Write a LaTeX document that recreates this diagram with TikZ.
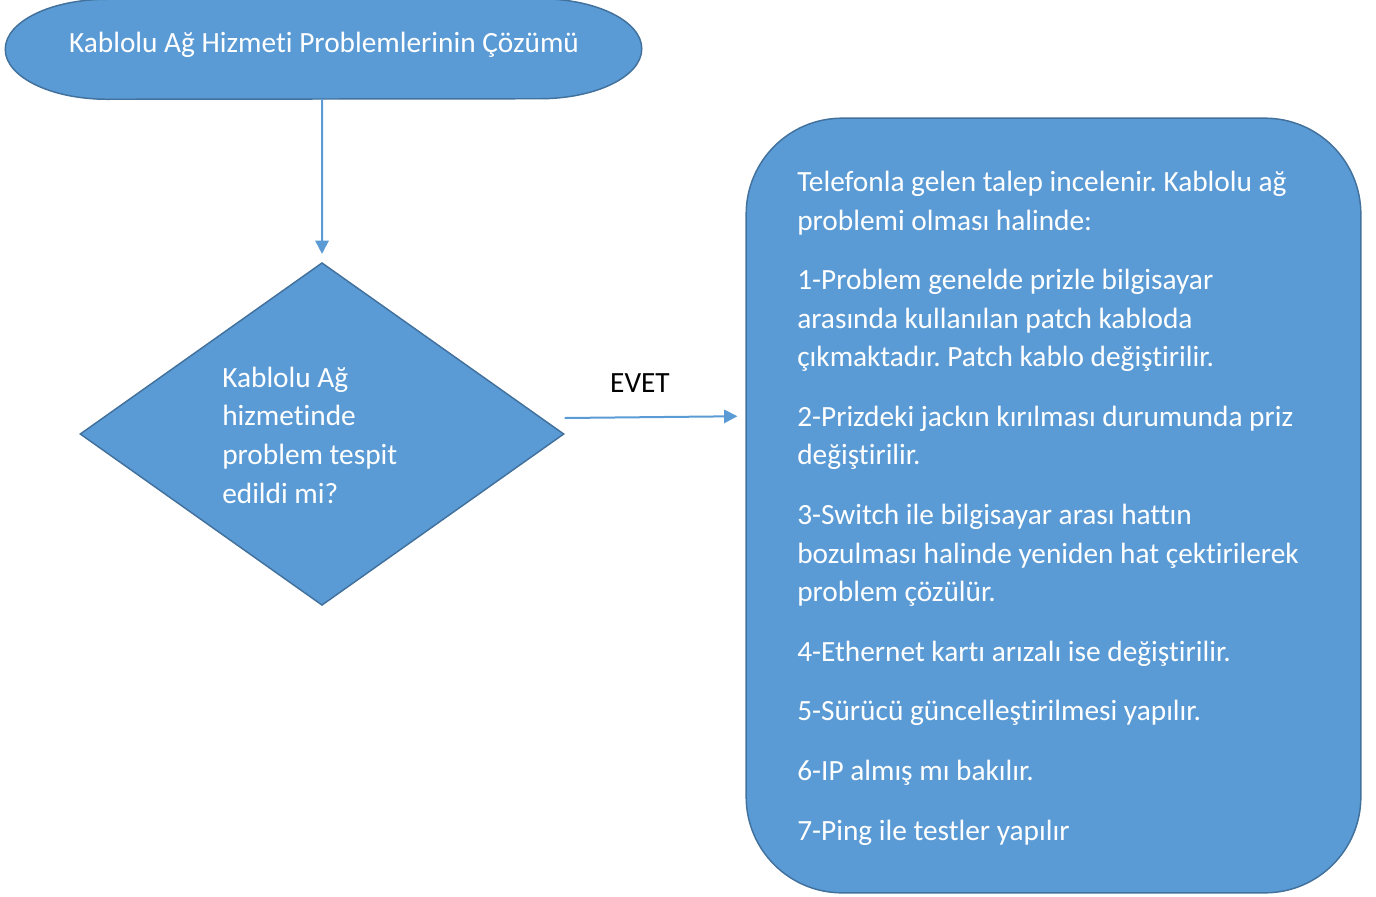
\documentclass[tikz,border=0pt]{standalone}
\usepackage{fontspec}
\setmainfont{Carlito}[Ligatures=NoCommon]
\usetikzlibrary{shapes.geometric,arrows.meta}
\definecolor{fillblue}{HTML}{5B9BD5}
\definecolor{edgeblue}{HTML}{41719C}
\frenchspacing
\begin{document}
\begin{tikzpicture}[x=0.75pt,y=-0.75pt,
  shapebox/.style={draw=edgeblue, fill=fillblue, line width=1.1pt, inner sep=0},
  txt/.style={text=white, font=\fontsize{22}{28.9}\selectfont, inner sep=0},
  conn/.style={draw=fillblue, line width=1.5pt, -{Triangle[length=10pt,width=10pt]}}]
\useasboundingbox (0,0) rectangle (1376,896);
% terminator shape
\node[inner sep=0, minimum width=477pt, minimum height=75pt] (start) at (323.5,49) {};
\draw[draw=edgeblue, fill=fillblue, line width=1.1pt]
  ([xshift=76.5pt]start.north west) -- ([xshift=-76.5pt]start.north east)
  arc[start angle=90, end angle=-90, x radius=76.5pt, y radius=37.5pt]
  -- ([xshift=76.5pt]start.south west)
  arc[start angle=270, end angle=90, x radius=76.5pt, y radius=37.5pt] -- cycle;
\node[txt, anchor=base] (starttxt) at (324,52) {Kablolu Ağ Hizmeti Problemlerinin Çözümü};
\node[shapebox, diamond, minimum width=363pt, minimum height=257pt] (dec) at (322,434) {};
\node[txt, anchor=base west, align=left] (dectxt) at (222,503) {Kablolu Ağ\\hizmetinde\\problem tespit\\edildi mi?};
\node[shapebox, rounded corners=72pt, minimum width=461pt, minimum height=581pt] (info) at (1053.5,505.5) {};
\node[txt, anchor=base west, align=left] (infotxt) at (797,840) {Telefonla gelen talep incelenir. Kablolu ağ\\
problemi olması halinde:\\[15.8pt]
1-Problem genelde prizle bilgisayar\\
arasında kullanılan patch kabloda\\
çıkmaktadır. Patch kablo değiştirilir.\\[15.8pt]
2-Prizdeki jackın kırılması durumunda priz\\
değiştirilir.\\[15.8pt]
3-Switch ile bilgisayar arası hattın\\
bozulması halinde yeniden hat çektirilerek\\
problem çözülür.\\[15.8pt]
4-Ethernet kartı arızalı ise değiştirilir.\\[15.8pt]
5-Sürücü güncelleştirilmesi yapılır.\\[15.8pt]
6-IP almış mı bakılır.\\[15.8pt]
7-Ping ile testler yapılır};
\node[anchor=base, font=\fontsize{22}{28.9}\selectfont, text=black, inner sep=0] (evet) at (640,392) {EVET};
\draw[conn, shorten >=6pt] ([xshift=-1pt]start.south) -- (dec.north);
\draw[conn, shorten >=6pt] ([yshift=12pt]dec.east) -- ([yshift=67pt]info.west);
\end{tikzpicture}
\end{document}
